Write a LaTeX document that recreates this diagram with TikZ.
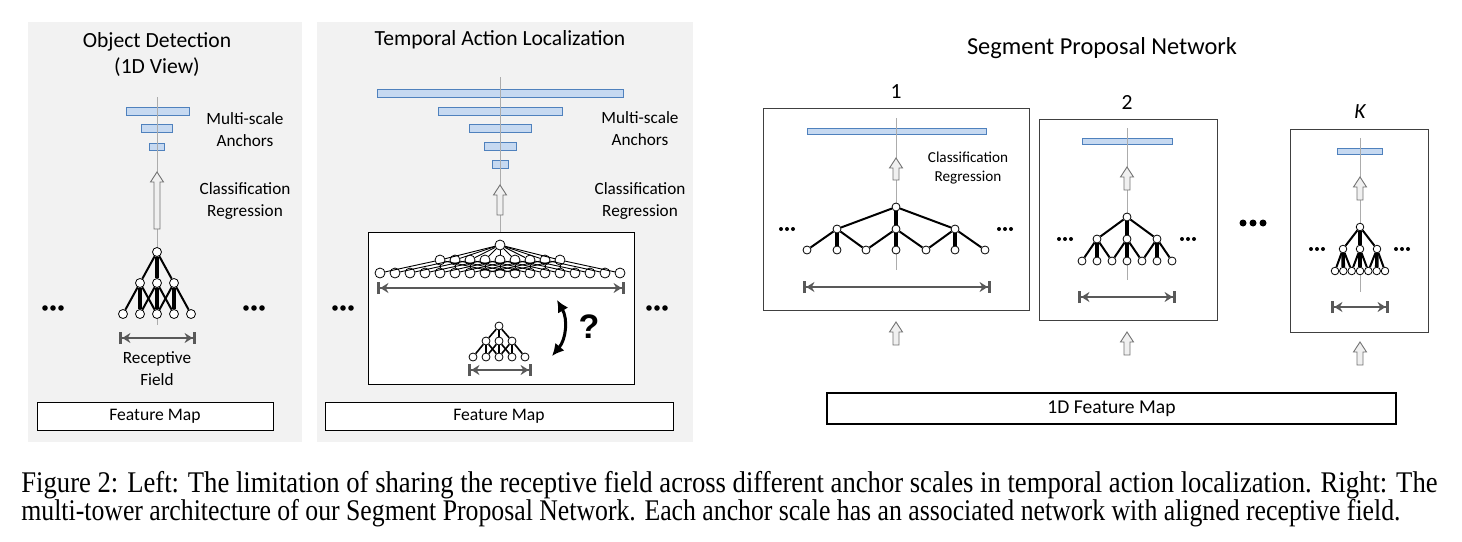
\documentclass[tikz,border=0pt]{standalone}
\usepackage{fontspec}
\setmainfont{Carlito}
\newfontfamily\capfont{Liberation Serif}
\newfontfamily\askfont{Liberation Sans}
\usepackage{graphicx}
\usetikzlibrary{arrows.meta, positioning}
\definecolor{panel}{RGB}{242,242,242}
\definecolor{anchorfill}{RGB}{198,217,241}
\definecolor{anchorline}{RGB}{79,129,189}
\definecolor{spangray}{RGB}{89,89,89}
\definecolor{boxgray}{RGB}{64,64,64}
\tikzset{
    panelbg/.style={fill=panel, draw=none},
    anchorbar/.style={fill=anchorfill, draw=anchorline, line width=0.5pt},
    axis/.style={draw=gray!65, line width=0.4pt},
    blockar/.style={draw=black!55, fill=gray!12, line width=0.45pt},
    unit/.style={draw, circle, fill=white, inner sep=0pt, line width=0.4pt, minimum size=4pt},
    edge/.style={line width=1pt},
    vedge/.style={line width=1.8pt},
    thinedge/.style={line width=0.45pt},
    span/.style={draw=spangray, line width=1.25pt,
        {Bar[width=6pt,line width=1.7pt]Stealth[length=4pt,width=5pt]}-{Stealth[length=4pt,width=5pt]Bar[width=6pt,line width=1.7pt]}},
    askarrow/.style={line width=1.5pt, {Latex[length=6pt,width=6pt]}-{Latex[length=6pt,width=6pt]}},
    fmap/.style={draw, fill=white, line width=0.5pt, inner sep=0pt, font=\fontsize{8.8}{10}\selectfont},
    towerbox/.style={draw=boxgray, line width=0.5pt},
    title/.style={align=center, font=\fontsize{10.8}{13}\selectfont},
    note/.style={align=center, font=\fontsize{8.6}{11}\selectfont},
    smallnote/.style={align=center, font=\fontsize{7.6}{9.5}\selectfont},
}
% three dots: x, y, spacing, radius
\newcommand{\more}[4]{\foreach \k in {-1,0,1} \fill (#1+\k*#3,#2) circle[radius=#4];}
% open block arrow pointing up: x, top, bottom
\newcommand{\uparr}[3]{\draw[blockar] (#1-3,#3) -- (#1-3,#2+10) -- (#1-6.5,#2+10) -- (#1,#2) -- (#1+6.5,#2+10) -- (#1+3,#2+10) -- (#1+3,#3) -- cycle;}

\begin{document}
\begin{tikzpicture}[x=0.5pt, y=-0.5pt]
    \useasboundingbox (0,0) rectangle (1462,541);
    \fill[white] (0,0) rectangle (1462,541);
    % ---- panels
    \fill[panelbg] (28,22) rectangle (302,442);
    \fill[panelbg] (317,22) rectangle (693,442);
    \draw[fill=white, line width=0.5pt] (368,232) rectangle (634,384);
    \draw[towerbox] (763,108) rectangle (1029,310);
    \draw[towerbox] (1039,119) rectangle (1217,320);
    \draw[towerbox] (1290,129) rectangle (1428,332);

    % ---- anchors
    \draw[anchorbar] (126,107) rectangle (189,115);
    \draw[anchorbar] (141,124) rectangle (172,132);
    \draw[anchorbar] (149,143) rectangle (164,150);

    \draw[anchorbar] (377,89) rectangle (623,97);
    \draw[anchorbar] (438,107) rectangle (562,115);
    \draw[anchorbar] (469,124) rectangle (531,132);
    \draw[anchorbar] (484,142) rectangle (516,150);
    \draw[anchorbar] (492,160) rectangle (508,168);

    \draw[anchorbar] (807,128) rectangle (986,134);
    \draw[anchorbar] (1082,138) rectangle (1172,144);
    \draw[anchorbar] (1337,148) rectangle (1382,154);

    % ---- axes
    \coordinate (la1) at (157,97);  \coordinate (la2) at (157,325);
    \coordinate (ma1) at (500,77);  \coordinate (ma2) at (500,232);
    \coordinate (pa1) at (896,118); \coordinate (pa2) at (896,270);
    \coordinate (qa1) at (1127,128); \coordinate (qa2) at (1127,280);
    \coordinate (ra1) at (1360,138); \coordinate (ra2) at (1360,292);
    \draw[axis] (la1) -- (la2);
    \draw[axis] (ma1) -- (ma2);
    \draw[axis] (pa1) -- (pa2);
    \draw[axis] (qa1) -- (qa2);
    \draw[axis] (ra1) -- (ra2);

    % ---- block arrows
    \uparr{157}{172}{229}
    \uparr{500}{185}{215}
    \uparr{896}{158}{180}
    \uparr{896}{322}{345}
    \uparr{1127}{167}{190}
    \uparr{1127}{332}{355}
    \uparr{1360}{177}{200}
    \uparr{1360}{342}{365}

    % ---- object detection tree
    \node[unit, minimum size=4.5pt] (lt) at (157,252) {};
    \foreach \i/\x in {1/140,2/157,3/174} \node[unit, minimum size=4.5pt] (lm\i) at (\x,283) {};
    \foreach \i/\x in {1/123,2/140,3/157,4/174,5/191} \node[unit, minimum size=4.5pt] (lb\i) at (\x,314) {};
    \draw[edge] (lt) -- (lm1);
    \draw[vedge] (lt) -- (lm2);
    \draw[edge] (lt) -- (lm3);
    \foreach \i [evaluate=\i as \b using int(\i+1), evaluate=\i as \c using int(\i+2)] in {1,2,3} {
        \draw[edge] (lm\i) -- (lb\i);
        \draw[vedge] (lm\i) -- (lb\b);
        \draw[edge] (lm\i) -- (lb\c);
    }

    % ---- large receptive field tree
    \node[unit, minimum size=5pt] (bt) at (500,245) {};
    \foreach \j in {0,...,8} \node[unit, minimum size=5pt] (bm\j) at (440+15*\j,260) {};
    \foreach \k in {0,...,16} \node[unit, minimum size=5pt] (bb\k) at (380+15*\k,273) {};
    \foreach \j [evaluate=\j as \c using int(\j+4), evaluate=\j as \r using int(\j+8)] in {0,...,8} {
        \draw[thinedge] (bt) -- (bm\j);
        \draw[thinedge] (bm\j) -- (bb\j);
        \draw[thinedge] (bm\j) -- (bb\c);
        \draw[thinedge] (bm\j) -- (bb\r);
    }

    % ---- small receptive field tree
    \node[unit] (st) at (499,326) {};
    \foreach \i/\x in {1/486,2/499,3/512} \node[unit] (sm\i) at (\x,341) {};
    \foreach \i/\x in {1/473,2/486,3/499,4/512,5/525} \node[unit] (sb\i) at (\x,357) {};
    \draw[line width=0.8pt] (st) -- (sm1);
    \draw[line width=1.3pt] (st) -- (sm2);
    \draw[line width=0.8pt] (st) -- (sm3);
    \foreach \i [evaluate=\i as \b using int(\i+1), evaluate=\i as \c using int(\i+2)] in {1,2,3} {
        \draw[line width=0.8pt] (sm\i) -- (sb\i);
        \draw[line width=1.3pt] (sm\i) -- (sb\b);
        \draw[line width=0.8pt] (sm\i) -- (sb\c);
    }

    % ---- towers
    \node[unit] (pt) at (896,207) {};
    \foreach \i/\x in {1/837,2/896,3/955} \node[unit] (pm\i) at (\x,229) {};
    \foreach \i/\x in {1/807,2/837,3/866,4/896,5/926,6/955,7/985} \node[unit] (pb\i) at (\x,250) {};

    \node[unit] (qt) at (1127,217) {};
    \foreach \i/\x in {1/1097,2/1127,3/1157} \node[unit] (qm\i) at (\x,239) {};
    \foreach \i/\x in {1/1082,2/1097,3/1112,4/1127,5/1142,6/1157,7/1172} \node[unit] (qb\i) at (\x,261) {};

    \node[unit, minimum size=3.8pt] (rt) at (1360,227) {};
    \foreach \i/\x in {1/1343,2/1360,3/1377} \node[unit, minimum size=3.8pt] (rm\i) at (\x,249) {};
    \foreach \i/\x in {1/1335,2/1343.3,3/1351.7,4/1360,5/1368.3,6/1376.7,7/1385} \node[unit, minimum size=3.8pt] (rb\i) at (\x,271) {};

    \foreach \t in {p,q,r} {
        \draw[edge] (\t t) -- (\t m1);
        \draw[vedge] (\t t) -- (\t m2);
        \draw[edge] (\t t) -- (\t m3);
        \foreach \i [evaluate=\i as \a using int(2*\i-1), evaluate=\i as \b using int(2*\i), evaluate=\i as \c using int(2*\i+1)] in {1,2,3} {
            \draw[edge] (\t m\i) -- (\t b\a);
            \draw[vedge] (\t m\i) -- (\t b\b);
            \draw[edge] (\t m\i) -- (\t b\c);
        }
    }

    % ---- receptive field spans
    \coordinate (ls1) at (119,338);  \coordinate (ls2) at (196,338);
    \coordinate (bs1) at (377,288);  \coordinate (bs2) at (625,288);
    \coordinate (ss1) at (468,370);  \coordinate (ss2) at (532,370);
    \coordinate (ps1) at (803,287);  \coordinate (ps2) at (991,287);
    \coordinate (qs1) at (1078,297); \coordinate (qs2) at (1176,297);
    \coordinate (rs1) at (1331,307); \coordinate (rs2) at (1389,307);
    \draw[span] (ls1) -- (ls2);
    \draw[span] (bs1) -- (bs2);
    \draw[span] (ss1) -- (ss2);
    \draw[span] (ps1) -- (ps2);
    \draw[span] (qs1) -- (qs2);
    \draw[span] (rs1) -- (rs2);

    \coordinate (ask1) at (557,300); \coordinate (ask2) at (552,356);
    \draw[askarrow] (ask1) to[bend left=35] (ask2);
    \node[font=\askfont\bfseries\fontsize{17}{17}\selectfont] (ask) at (589,327) {?};

    % ---- dots
    \more{53}{308}{8}{2.8}
    \more{254}{308}{8}{2.8}
    \more{343}{308}{8}{2.8}
    \more{657}{308}{8}{2.8}
    \more{787}{229}{6}{2}
    \more{1005}{229}{6}{2}
    \more{1065}{239}{6}{2}
    \more{1188}{239}{6}{2}
    \more{1317}{249}{6}{2}
    \more{1402}{249}{6}{2}
    \more{1253}{223}{10}{3.5}

    % ---- texts
    \node[title] (odtitle) at (157,54) {Object Detection\\(1D View)};
    \node[note] (lanchors) at (245,130) {Multi-scale\\Anchors};
    \node[note] (lcls) at (245,201) {Classification\\Regression};
    \node[note] (lrf) at (157,369) {Receptive\\Field};
    \node[fmap, minimum width=118pt, minimum height=14pt] (lfm) at (155,416) {Feature Map};

    \node[title] (taltitle) at (500,40) {Temporal Action Localization};
    \node[note] (manchors) at (640,129) {Multi-scale\\Anchors};
    \node[note] (mcls) at (640,201) {Classification\\Regression};
    \node[fmap, minimum width=174pt, minimum height=14pt] (mfm) at (499,416) {Feature Map};

    \node[title, font=\fontsize{12.2}{14}\selectfont] (spntitle) at (1102,48) {Segment Proposal Network};
    \node[title] (p1) at (896,92) {1};
    \node[title] (p2) at (1127,102) {2};
    \node[title] (pk) at (1360,112) {\itshape K};
    \node[smallnote] (pcls) at (968,168) {Classification\\Regression};
    \node[fmap, line width=1pt, minimum width=284.5pt, minimum height=15.5pt, font=\fontsize{9.8}{11}\selectfont] (fm1d) at (1111.5,408.5) {1D Feature Map};

    % ---- caption
    \node[anchor=base west, inner sep=0pt, font=\capfont\fontsize{15}{14}\selectfont] (cap1) at (21,492)
        {\resizebox{708pt}{\height}{Figure 2: Left: The limitation of sharing the receptive field across different anchor scales in temporal action localization. Right: The}};
    \node[anchor=base west, inner sep=0pt, font=\capfont\fontsize{15}{14}\selectfont] (cap2) at (21,520)
        {\resizebox{689.5pt}{\height}{multi-tower architecture of our Segment Proposal Network. Each anchor scale has an associated network with aligned receptive field.}};
\end{tikzpicture}
\end{document}
